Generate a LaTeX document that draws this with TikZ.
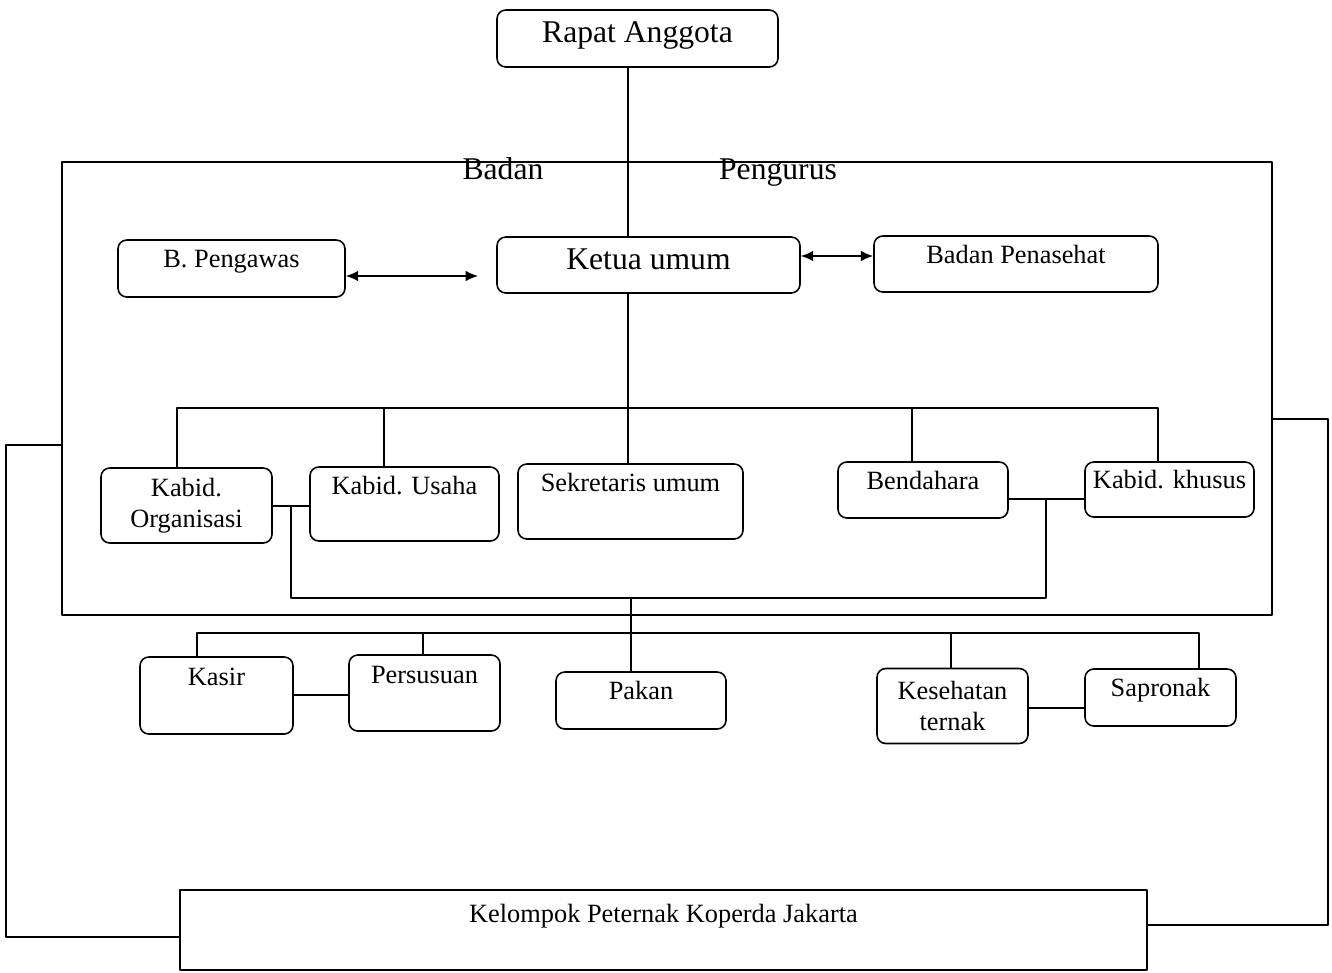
\documentclass[tikz,border=0pt]{standalone}
\usepackage{fontspec}
\setmainfont{Liberation Serif}
\usetikzlibrary{arrows.meta}
\tikzset{
	unit/.style={draw, rounded corners=5pt, inner sep=0pt, align=center, font=\fontsize{15}{17.5}\selectfont},
	short/.style={text height=9.9pt, text depth=10.5pt},
	tall/.style={text height=9.9pt, text depth=21pt},
	big/.style={font=\fontsize{18}{21}\selectfont, text height=11.9pt, text depth=7pt},
	title/.style={anchor=base, inner sep=0pt, font=\fontsize{18}{21}\selectfont}
}
\begin{document}
\begin{tikzpicture}[x=0.2mm, y=-0.2mm, line width=0.9pt, line join=round, line cap=round, >={Latex[length=7pt,width=6pt]}]
					\useasboundingbox (0,0) rectangle (1332,972);
					%%%%%%%%%%%%%%%%%%%%%%%%%%%%%%%%%
					\node[draw, inner sep=0pt, minimum width=242mm, minimum height=90.6mm] (pengurus) at (667,388.5) {};
					\node[title] (badan) at (503,179) {Badan};
					\node[title] (pengurustitle) at (778,179) {Pengurus};
					%%%%%%%%%%%%%%%%%%%%%%%%%%%%%%%%%
					\node[unit, big, minimum width=56.2mm, minimum height=11.4mm] (rapat) at (637.5,38.5) {Rapat Anggota};
					\node[unit, big, minimum width=60.6mm, minimum height=11.2mm] (ketua) at (648.5,265) {Ketua umum};
					\node[unit, short, minimum width=45.4mm, minimum height=11.4mm] (pengawas) at (231.5,268.5) {B. Pengawas};
					\node[unit, short, minimum width=56.8mm, minimum height=11.2mm] (penasehat) at (1016,264) {Badan Penasehat};
					\node[unit, minimum width=34.2mm, minimum height=15mm] (kborg) at (186.5,505.5) {Kabid.\\Organisasi};
					\node[unit, tall, minimum width=37.8mm, minimum height=14.8mm] (kbusaha) at (404.5,504) {Kabid. Usaha};
					\node[unit, tall, minimum width=45mm, minimum height=15mm] (sekum) at (630.5,501.5) {Sekretaris umum};
					\node[unit, short, minimum width=34mm, minimum height=11.2mm] (bendahara) at (923,490) {Bendahara};
					\node[unit, short, minimum width=33.8mm, minimum height=11mm] (kbkhusus) at (1169.5,489.5) {Kabid. khusus};
					\node[unit, tall, minimum width=30.6mm, minimum height=15.4mm] (kasir) at (216.5,695.5) {Kasir};
					\node[unit, tall, minimum width=30.2mm, minimum height=15.2mm] (persusuan) at (424.5,693) {Persusuan};
					\node[unit, short, minimum width=34mm, minimum height=11.4mm] (pakan) at (641,700.5) {Pakan};
					\node[unit, minimum width=30.2mm, minimum height=15mm] (kesehatan) at (952.5,706) {Kesehatan\\ternak};
					\node[unit, short, minimum width=30.2mm, minimum height=11.4mm] (sapronak) at (1160.5,697.5) {Sapronak};
					\node[unit, rounded corners=0pt, text height=9.9pt, text depth=19pt, minimum width=193.4mm, minimum height=16mm] (kelompok) at (663.5,930) {Kelompok Peternak Koperda Jakarta};
					%%%%%%%%%%%%%%%%%%%%%%%%%%%%%%%%%
					\coordinate (pgwend) at (478,276);
					\draw[<->] (pengawas.east |- pgwend) -- (pgwend);
					\draw[<->] (ketua.east |- 0,256) -- (penasehat.west |- 0,256);
					\draw (rapat.south -| 628,0) -- (ketua.north -| 628,0);
					\draw (ketua.south -| 628,0) -- (sekum.north -| 628,0);
					%%%%%%%%%%%%%%%%%%%%%%%%%%%%%%%%%
					\draw (kborg.north -| 177,0) |- (1158,408) -- (kbkhusus.north -| 1158,0);
					\draw (kbusaha.north -| 384,0) -- (384,408);
					\draw (bendahara.north -| 912,0) -- (912,408);
					\draw (kborg.east |- 0,506) -- (kbusaha.west |- 0,506);
					\draw (bendahara.east |- 0,499) -- (kbkhusus.west |- 0,499);
					\draw (291,506) |- (1046,598) -- (1046,499);
					\draw (631,598) -- (pakan.north -| 631,0);
					%%%%%%%%%%%%%%%%%%%%%%%%%%%%%%%%%
					\draw (kasir.north -| 197,0) |- (1199,633) -- (sapronak.north -| 1199,0);
					\draw (persusuan.north -| 423,0) -- (423,633);
					\draw (kesehatan.north -| 951,0) -- (951,633);
					\draw (kasir.east |- 0,695) -- (persusuan.west |- 0,695);
					\draw (kesehatan.east |- 0,708) -- (sapronak.west |- 0,708);
					%%%%%%%%%%%%%%%%%%%%%%%%%%%%%%%%%
					\draw (pengurus.west |- 0,445) -| (6,937) -- (kelompok.west |- 0,937);
					\draw (pengurus.east |- 0,419) -| (1328,925) -- (kelompok.east |- 0,925);
\end{tikzpicture}
\end{document}
